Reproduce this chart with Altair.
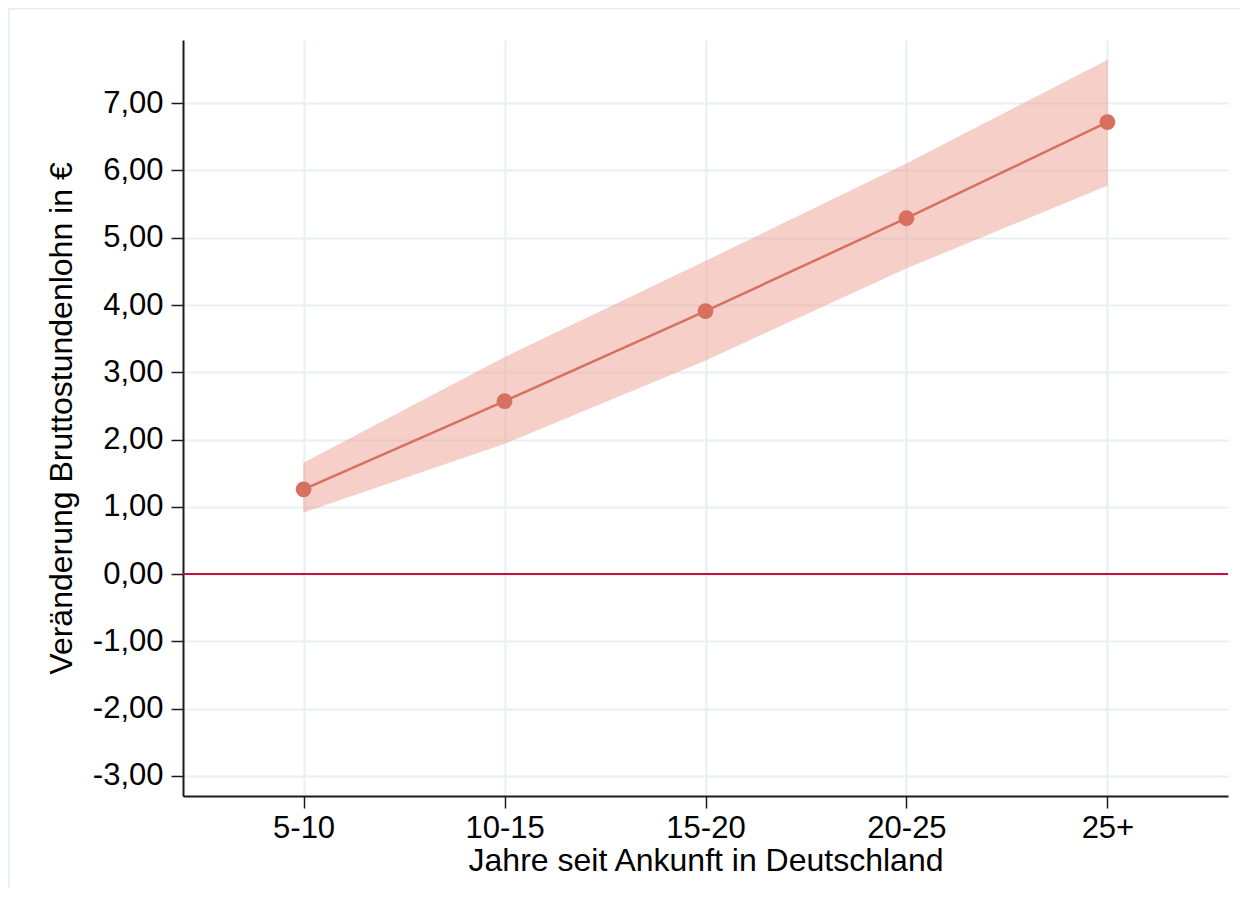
import altair as alt
import pandas as pd

categories = ["5-10", "10-15", "15-20", "20-25", "25+"]
estimates = [1.26, 2.57, 3.91, 5.29, 6.72]
upper = [1.65, 3.22, 4.65, 6.10, 7.64]
lower = [0.92, 1.94, 3.18, 4.55, 5.78]
y_ticks = [-3, -2, -1, 0, 1, 2, 3, 4, 5, 6, 7]

df = pd.DataFrame({"cat": categories, "est": estimates, "lo": lower, "hi": upper})

FONT = "Liberation Sans"
LINE = "#d8705f"

xscale = alt.Scale(type="point", domain=categories, padding=0.6)
yscale = alt.Scale(domain=[-3.3, 7.94], nice=False, zero=False)

xenc = alt.X("cat:O", scale=xscale, sort=categories,
             axis=alt.Axis(title="Jahre seit Ankunft in Deutschland", labelAngle=0,
                           grid=True, gridColor="#e9f0f2", gridWidth=2,
                           domainColor="#1a1a1a", domainWidth=2,
                           tickColor="#1a1a1a", tickWidth=1.5, tickSize=12,
                           labelFontSize=31, titleFontSize=32, labelFont=FONT, titleFont=FONT,
                           labelColor="black", titleColor="black", titleFontWeight="normal",
                           labelPadding=5, titlePadding=2))
yenc = alt.Y("est:Q", scale=yscale,
             axis=alt.Axis(title="Veränderung Bruttostundenlohn in €", values=y_ticks,
                           labelExpr="replace(replace(format(datum.value, '.2f'), '.', ','), '\u2212', '-')",
                           grid=True, gridColor="#e9f0f2", gridWidth=2,
                           domainColor="#1a1a1a", domainWidth=2,
                           tickColor="#1a1a1a", tickWidth=1.5, tickSize=12,
                           labelFontSize=31, titleFontSize=32, labelFont=FONT, titleFont=FONT,
                           labelColor="black", titleColor="black", titleFontWeight="normal",
                           labelPadding=8, titlePadding=14))

base = alt.Chart(df)

band = base.mark_area(color="#eda193", opacity=0.5, stroke="#e39282",
                      strokeWidth=1, strokeOpacity=0.5).encode(
    x=xenc, y=alt.Y("lo:Q", scale=yscale), y2="hi:Q")

line = base.mark_line(color=LINE, strokeWidth=2.5).encode(x=xenc, y=yenc)
points = base.mark_circle(color=LINE, size=250, opacity=1).encode(x=xenc, y=yenc)

zero = alt.Chart(pd.DataFrame({"z": [0]})).mark_rule(color="#c8103e", strokeWidth=2).encode(
    y=alt.Y("z:Q", scale=yscale))

frame_df = pd.DataFrame({"a": [0]})
frame_top = alt.Chart(frame_df).mark_rule(color="#e8eef0", strokeWidth=3).encode(
    x=alt.value(-176), x2=alt.value(1100), y=alt.value(-32))
frame_left = alt.Chart(frame_df).mark_rule(color="#e8eef0", strokeWidth=3).encode(
    x=alt.value(-175), y=alt.value(-33), y2=alt.value(900))

chart = alt.layer(band, line, points, zero, frame_top, frame_left).properties(
    width=1045, height=756,
    autosize=alt.AutoSizeParams(type="none"),
    padding={"left": 175, "top": 32, "right": 12, "bottom": 92},
).configure_view(stroke=None)

chart.save("out.html", embed_options={"renderer": "svg", "actions": False})
